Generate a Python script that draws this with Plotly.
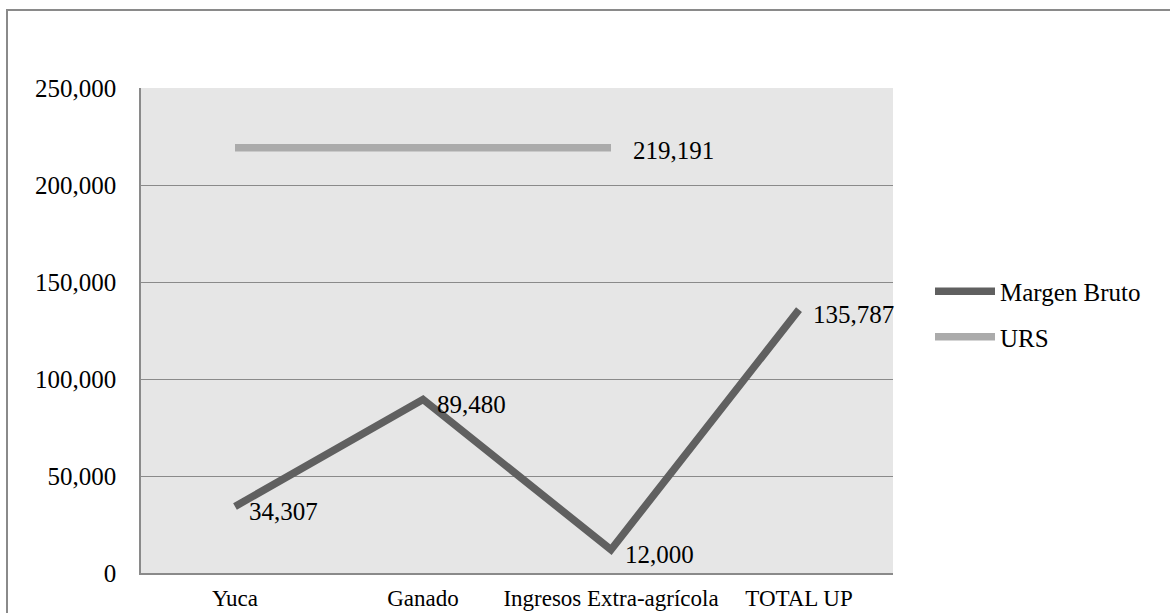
import plotly.graph_objects as go

categories = ["Yuca", "Ganado", "Ingresos Extra-agrícola", "TOTAL UP"]
margen_bruto = [34307, 89480, 12000, 135787]
urs_cats = ["Yuca", "Ganado", "Ingresos Extra-agrícola"]
urs = [219191, 219191, 219191]
y_ticks = [0, 50000, 100000, 150000, 200000, 250000]
y_tick_labels = ["0", "50,000", "100,000", "150,000", "200,000", "250,000"]

FONT = "Liberation Serif"
W, H = 1170, 613
L, R, T, B = 141, 277, 88, 40
pw = W - L - R
ph = H - T - B

fig = go.Figure()
fig.add_trace(go.Scatter(x=categories, y=margen_bruto, mode="lines", name="Margen Bruto",
                         legendgroup="a",
                         line=dict(color="#606060", width=7.5)))
fig.add_trace(go.Scatter(x=urs_cats, y=urs, mode="lines", name="URS",
                         legendgroup="b",
                         line=dict(color="#ababab", width=7.5)))

for c, v in zip(categories, margen_bruto):
    fig.add_annotation(x=c, y=v, text=f"{v:,}", showarrow=False, xanchor="left",
                       yanchor="middle", xshift=12, yshift=-5,
                       font=dict(family=FONT, size=25, color="black"))
fig.add_annotation(x=urs_cats[-1], y=urs[-1], text=f"{urs[-1]:,}", showarrow=False,
                   xanchor="left", yanchor="middle", xshift=20, yshift=-3,
                   font=dict(family=FONT, size=25, color="black"))

# outer chart border
fig.add_shape(type="rect", xref="paper", yref="paper",
              x0=(7 - L) / pw, x1=(W + 5 - L) / pw,
              y0=-(H + 5 - (H - B)) / ph, y1=((H - B) - 10) / ph,
              line=dict(color="#8a8a8a", width=2), fillcolor="rgba(0,0,0,0)", layer="below")

fig.update_layout(
    width=W, height=H,
    margin=dict(l=L, r=R, t=T, b=B, autoexpand=False),
    paper_bgcolor="white", plot_bgcolor="#e6e6e6",
    font=dict(family=FONT, size=25, color="black"),
    showlegend=True,
    legend=dict(x=(930 - L) / pw, xanchor="left", y=((H - B) - 314) / ph, yanchor="middle",
                itemwidth=60, tracegroupgap=10,
                font=dict(family=FONT, size=25), bgcolor="rgba(0,0,0,0)"),
    xaxis=dict(type="category", categoryorder="array", categoryarray=categories,
               showgrid=False, showline=True, linecolor="#8a8a8a", linewidth=1.5,
               ticks="", ticklabelstandoff=4, range=[-0.5, 3.5], automargin=False,
               tickfont=dict(family=FONT, size=23)),
    yaxis=dict(range=[0, 250000], tickvals=y_ticks, ticktext=y_tick_labels,
               showgrid=True, gridcolor="#8a8a8a", gridwidth=1.3, zeroline=False,
               showline=True, linecolor="#8a8a8a", linewidth=1.5, ticks="", automargin=False,
               ticklabelstandoff=18, tickfont=dict(family=FONT, size=25)),
)

fig.write_html("out.html", config={"displayModeBar": False},
               post_script="document.body.style.margin='0';document.body.style.overflow='hidden';")
